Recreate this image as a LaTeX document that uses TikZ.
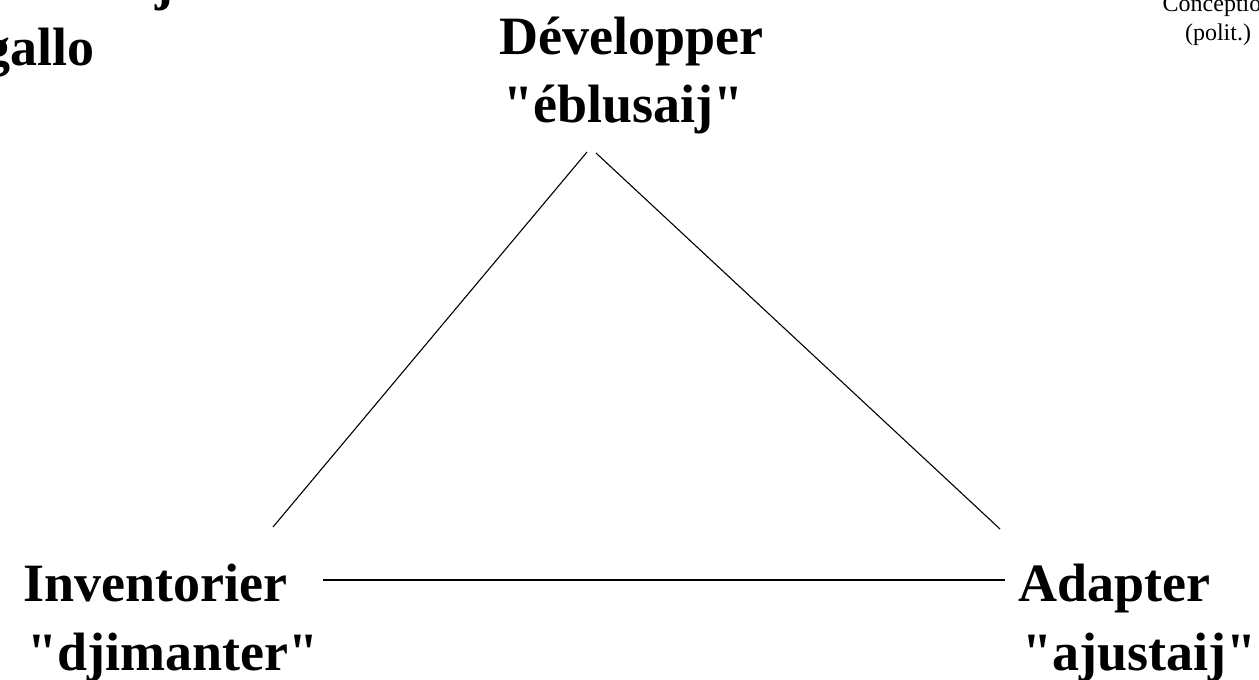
\documentclass[tikz,border=0pt]{standalone}
\usepackage{fontspec}
\setmainfont[Ligatures=TeXOff]{Liberation Serif}
\begin{document}
\begin{tikzpicture}[x=1pt,y=-1pt,
  lbl/.style={font=\fontsize{54}{60}\selectfont\bfseries, inner sep=0pt, anchor=base west},
  small/.style={font=\fontsize{24}{28}\selectfont, inner sep=0pt, anchor=base},
  conn/.style={line width=1.1pt, draw=black}]
\useasboundingbox (0,0) rectangle (1259,680);
\clip (0,0) rectangle (1259,680);
% labels
\node[lbl] (dev1) at (499,54) {Développer};
\node[lbl] (dev2) at (503,122) {"éblusaij"};
\node[lbl] (inv1) at (23,601) {Inventorier};
\node[lbl] (inv2) at (27,670) {"djimanter"};
\node[lbl] (ada1) at (1018,601) {Adapter};
\node[lbl] (ada2) at (1022,670) {"ajustaij"};
\node[lbl] (tl1) at (155,0) {j};
\node[lbl] (tl2) at (-17,65) {gallo};
\node[small] (tr1) at (1218,11) {Conception};
\node[small] (tr2) at (1218,40) {(polit.)};
% connector ends
\coordinate (devL) at (587,152);
\coordinate (devR) at (596,153);
\coordinate (invT) at (273,527);
\coordinate (invR) at (323,580);
\coordinate (adaT) at (1000,529);
\coordinate (adaL) at (1005,580);
\draw[conn] (devL) -- (invT);
\draw[conn] (devR) -- (adaT);
\draw[conn] (invR) -- (adaL);
\end{tikzpicture}
\end{document}
